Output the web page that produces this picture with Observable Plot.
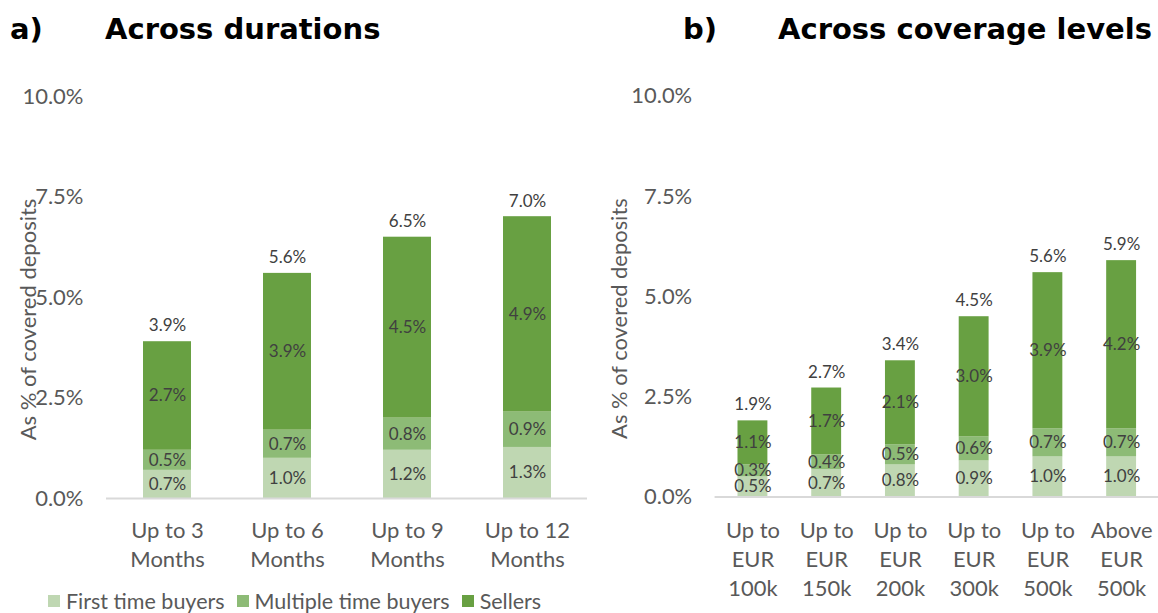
<!DOCTYPE html>
<html>
<head>
<meta charset="utf-8">
<script src="https://cdn.jsdelivr.net/npm/d3@7"></script>
<script src="https://cdn.jsdelivr.net/npm/@observablehq/plot@0.6"></script>
<style>
  body { margin: 0; background: #fff; }
  #root { position: relative; width: 1158px; height: 613px; overflow: hidden; font-family: Lato, sans-serif; background: #fff; }
  .title { position: absolute; top: 11px; font-family: "DejaVu Sans", sans-serif; font-weight: bold; font-size: 29px; color: #000; white-space: nowrap; line-height: 36px; }
  .panel { position: absolute; }
  .panel svg { overflow: visible; }
  #legend { position: absolute; left: 48px; top: 589px; height: 24px; line-height: 24px; display: flex; align-items: center; font-size: 21.5px; color: #595959; white-space: nowrap; }
  #legend .item { display: flex; align-items: center; margin-right: 12px; }
  #legend .sw { width: 12px; height: 12px; margin-right: 6px; }
</style>
</head>
<body>
<div id="root">
  <div class="title" style="left:10px">a)</div>
  <div class="title" style="left:105px">Across durations</div>
  <div class="title" style="left:683px">b)</div>
  <div class="title" style="left:778px">Across coverage levels</div>
  <div class="panel" id="left" style="left:0px; top:70px"></div>
  <div class="panel" id="right" style="left:595px; top:70px"></div>
  <div id="legend"></div>
</div>
<script>
// ---- data ----
const series = ["First time buyers", "Multiple time buyers", "Sellers"];
const seriesColors = ["#BFD7B2", "#8DBB76", "#68A042"];
const yTicks = [0, 2.5, 5, 7.5, 10];
const yTitle = "As % of covered deposits";

const durations = ["Up to 3\nMonths", "Up to 6\nMonths", "Up to 9\nMonths", "Up to 12\nMonths"];
const durFirst    = [0.7, 1.0, 1.2, 1.27];
const durMultiple = [0.5, 0.7, 0.8, 0.88];
const durSellers  = [2.7, 3.9, 4.5, 4.86];
const durTotals   = [3.9, 5.6, 6.5, 7.0];

const coverage = ["Up to\nEUR\n100k", "Up to\nEUR\n150k", "Up to\nEUR\n200k", "Up to\nEUR\n300k", "Up to\nEUR\n500k", "Above\nEUR\n500k"];
const covFirst    = [0.5, 0.68, 0.8, 0.9, 1.0, 1.0];
const covMultiple = [0.3, 0.37, 0.5, 0.6, 0.7, 0.7];
const covSellers  = [1.1, 1.67, 2.1, 3.0, 3.9, 4.2];
const covTotals   = [1.9, 2.7, 3.4, 4.5, 5.6, 5.9];

const pct = v => v.toFixed(1) + "%";

function panel(cats, vals, totals, cfg) {
  const rows = [];
  cats.forEach((c, i) => series.forEach((s, j) => rows.push({cat: c, series: s, value: vals[j][i]})));
  const tot = cats.map((c, i) => ({cat: c, total: totals[i]}));
  return Plot.plot({
    width: cfg.width,
    height: cfg.height,
    marginLeft: cfg.marginLeft,
    marginRight: 0,
    marginTop: 26,
    marginBottom: cfg.height - 428,
    style: {fontFamily: "Lato, sans-serif", color: "#595959", background: "transparent", overflow: "visible"},
    x: {domain: cats, paddingInner: 0.6, paddingOuter: 0.3, axis: null},
    y: {domain: [0, 10], axis: null},
    color: {domain: series, range: seriesColors},
    marks: [
      Plot.axisY({ticks: yTicks, tickSize: 0, tickPadding: 23, tickFormat: pct, fontSize: 22, label: null}),
      Plot.axisX({tickSize: 0, tickPadding: cfg.xPad, fontSize: 22, lineHeight: 1.32, label: null}),
      Plot.barY(rows, {x: "cat", y: "value", fill: "series"}),
      Plot.ruleY([0], {stroke: "#d9d9d9", strokeWidth: 2}),
      Plot.text(rows, Plot.stackY({x: "cat", y: "value", z: "series", text: d => pct(d.value), fill: "#404040", fontSize: 17})),
      Plot.text(tot, {x: "cat", y: "total", text: d => pct(d.total), dy: -16, fill: "#404040", fontSize: 17}),
      Plot.text([yTitle], {frameAnchor: "left", textAnchor: "middle", rotate: -90, dx: cfg.titleDx, dy: 22, fontSize: 22, fill: "#595959"})
    ]
  });
}

document.getElementById("left").append(
  panel(durations, [durFirst, durMultiple, durSellers], durTotals, {width: 587, height: 520, marginLeft: 106, titleDx: -78, xPad: 19})
);
document.getElementById("right").append(
  panel(coverage, [covFirst, covMultiple, covSellers], covTotals, {width: 565, height: 543, marginLeft: 120, titleDx: -95, xPad: 21})
);

const legend = document.getElementById("legend");
series.forEach((s, i) => {
  const item = document.createElement("div");
  item.className = "item";
  const sw = document.createElement("div");
  sw.className = "sw";
  sw.style.background = seriesColors[i];
  const label = document.createElement("span");
  label.textContent = s;
  item.append(sw, label);
  legend.append(item);
});
</script>
</body>
</html>
